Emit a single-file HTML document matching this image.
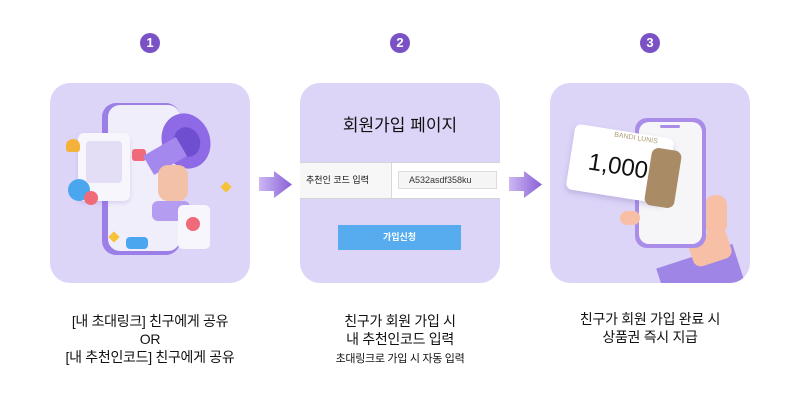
<!DOCTYPE html>
<html><head><meta charset="utf-8">
<style>
*{margin:0;padding:0;box-sizing:border-box}
body{width:800px;height:400px;background:#fff;position:relative;overflow:hidden;font-family:"Liberation Sans","Noto Sans CJK KR",sans-serif;color:#111}
.num{position:absolute;top:33px;width:20px;height:20px;border-radius:50%;background:#7a52c6;color:#fff;font-weight:bold;font-size:13px;text-align:center;line-height:20px}
.panel{position:absolute;top:83px;width:200px;height:200px;border-radius:20px;background:#ddd5f8;overflow:hidden}
.arrow{position:absolute;top:171px;width:33px;height:27px}
.cap{position:absolute;top:312px;width:260px;text-align:center;font-size:14px;line-height:18px;letter-spacing:-0.3px}
.abs{position:absolute}
</style></head><body>
<div class="num" style="left:140px">1</div>
<div class="num" style="left:390px">2</div>
<div class="num" style="left:640px">3</div>

<!-- panel 1 -->
<div class="panel" style="left:50px">
  <div class="abs" style="left:52px;top:20px;width:78px;height:152px;border-radius:14px;background:#9b7ee6"></div>
  <div class="abs" style="left:58px;top:22px;width:72px;height:146px;border-radius:12px;background:#f1eefb"></div>
  <div class="abs" style="left:28px;top:50px;width:52px;height:68px;border-radius:6px;background:#f7f6fc;box-shadow:0 2px 4px rgba(120,90,200,.2)"></div>
  <div class="abs" style="left:36px;top:58px;width:36px;height:42px;border-radius:4px;background:#e3ddf6"></div>
  <div class="abs" style="left:82px;top:66px;width:14px;height:12px;border-radius:3px;background:#f06a7a"></div>
  <div class="abs" style="left:112px;top:30px;width:48px;height:56px;border-radius:50%;background:#8f6ae6;transform:rotate(-20deg)"></div>
  <div class="abs" style="left:124px;top:44px;width:26px;height:30px;border-radius:50%;background:#6f4fd0;transform:rotate(-20deg)"></div>
  <div class="abs" style="left:96px;top:62px;width:38px;height:22px;background:#a588ee;transform:rotate(-30deg)"></div>
  <div class="abs" style="left:108px;top:82px;width:30px;height:36px;border-radius:10px;background:#f3c1a8"></div>
  <div class="abs" style="left:102px;top:118px;width:38px;height:20px;border-radius:6px;background:#b49cf0"></div>
  <div class="abs" style="left:128px;top:122px;width:32px;height:44px;border-radius:5px;background:#f7f6fc"></div>
  <div class="abs" style="left:136px;top:134px;width:14px;height:14px;border-radius:50%;background:#f06a7a"></div>
  <div class="abs" style="left:18px;top:96px;width:22px;height:22px;border-radius:50%;background:#4aa6ee"></div>
  <div class="abs" style="left:34px;top:108px;width:14px;height:14px;border-radius:50%;background:#f06a7a"></div>
  <div class="abs" style="left:16px;top:56px;width:14px;height:13px;border-radius:50% 50% 3px 3px;background:#f5b23a"></div>
  <div class="abs" style="left:76px;top:154px;width:22px;height:12px;border-radius:4px;background:#4aa6ee"></div>
  <div class="abs" style="left:172px;top:100px;width:8px;height:8px;background:#f5c23a;transform:rotate(45deg)"></div>
  <div class="abs" style="left:60px;top:150px;width:8px;height:8px;background:#f5c23a;transform:rotate(45deg)"></div>
</div>
<svg class="arrow" style="left:259px" viewBox="0 0 33 27"><defs><linearGradient id="g" x1="0" x2="1"><stop offset="0" stop-color="#cbb8f2"/><stop offset="1" stop-color="#8a5fd6"/></linearGradient></defs><path d="M0 6H15V0L33 13.5 15 27V20H0Z" fill="url(#g)"/></svg>

<!-- panel 2 -->
<div class="panel" style="left:300px">
  <div class="abs" style="left:0;top:28px;width:200px;text-align:center;font-size:17px">회원가입 페이지</div>
  <div class="abs" style="left:0;top:79px;width:200px;height:37px;background:#fff;border-top:1px solid #d4d4d4;border-bottom:1px solid #d4d4d4"></div>
  <div class="abs" style="left:0;top:80px;width:92px;height:35px;background:#f7f7f7;border-right:1px solid #d8d8d8;font-size:9px;line-height:35px;padding-left:6px">추천인 코드 입력</div>
  <div class="abs" style="left:98px;top:88px;width:99px;height:18px;background:#f5f5f5;border:1px solid #ddd;font-size:9px;line-height:16px;padding-left:10px;color:#333">A532asdf358ku</div>
  <div class="abs" style="left:38px;top:142px;width:123px;height:25px;background:#56acef;color:#fff;font-size:9px;font-weight:bold;text-align:center;line-height:25px">가입신청</div>
</div>
<svg class="arrow" style="left:509px" viewBox="0 0 33 27"><path d="M0 6H15V0L33 13.5 15 27V20H0Z" fill="url(#g)"/></svg>

<!-- panel 3 -->
<div class="panel" style="left:550px">
  <div class="abs" style="left:112px;top:172px;width:80px;height:50px;background:#9f85e6;transform:rotate(-18deg)"></div>
  <div class="abs" style="left:140px;top:150px;width:40px;height:30px;border-radius:8px;background:#f6bfa6;transform:rotate(-18deg)"></div>
  <div class="abs" style="left:155px;top:112px;width:22px;height:40px;border-radius:10px;background:#f6bfa6"></div>
  <div class="abs" style="left:85px;top:35px;width:71px;height:130px;border-radius:12px;background:#a98de9"></div>
  <div class="abs" style="left:89px;top:39px;width:63px;height:122px;border-radius:10px;background:#f6f6f9"></div>
  <div class="abs" style="left:110px;top:42px;width:20px;height:3px;border-radius:2px;background:#a98de9"></div>
  <div class="abs" style="left:70px;top:128px;width:20px;height:14px;border-radius:7px;background:#f6bfa6"></div>
  <div class="abs" style="left:20px;top:48px;width:100px;height:66px;border-radius:6px;background:#fff;transform:rotate(9deg);box-shadow:0 3px 6px rgba(100,80,160,.25)"></div>
  <div class="abs" style="left:98px;top:66px;width:30px;height:58px;border-radius:7px;background:#a98b66;transform:rotate(9deg)"></div>
  <div class="abs" style="left:38px;top:70px;font-size:24px;transform:rotate(9deg)">1,000</div>
  <div class="abs" style="left:64px;top:52px;font-size:7px;color:#b09a78;transform:rotate(9deg)">BANDI LUNIS</div>
</div>

<div class="cap" style="left:20px">[내 초대링크] 친구에게 공유<br>OR<br>[내 추천인코드] 친구에게 공유</div>
<div class="cap" style="left:270px">친구가 회원 가입 시<br>내 추천인코드 입력<br><span style="font-size:11px">초대링크로 가입 시 자동 입력</span></div>
<div class="cap" style="left:520px;top:310px">친구가 회원 가입 완료 시<br>상품권 즉시 지급</div>
</body></html>
